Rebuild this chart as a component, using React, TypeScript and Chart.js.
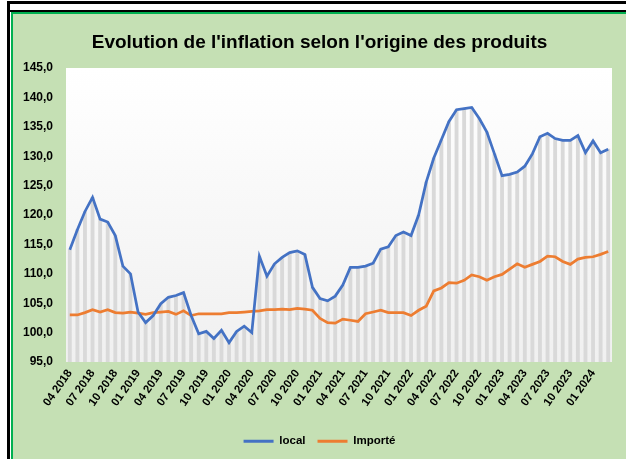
import React, { useEffect, useRef } from 'react';
import { Chart, registerables } from 'chart.js';

Chart.register(...registerables);

const months: string[] = [
  '04 2018', '05 2018', '06 2018', '07 2018', '08 2018', '09 2018', '10 2018', '11 2018', '12 2018',
  '01 2019', '02 2019', '03 2019', '04 2019', '05 2019', '06 2019', '07 2019', '08 2019', '09 2019',
  '10 2019', '11 2019', '12 2019', '01 2020', '02 2020', '03 2020', '04 2020', '05 2020', '06 2020',
  '07 2020', '08 2020', '09 2020', '10 2020', '11 2020', '12 2020', '01 2021', '02 2021', '03 2021',
  '04 2021', '05 2021', '06 2021', '07 2021', '08 2021', '09 2021', '10 2021', '11 2021', '12 2021',
  '01 2022', '02 2022', '03 2022', '04 2022', '05 2022', '06 2022', '07 2022', '08 2022', '09 2022',
  '10 2022', '11 2022', '12 2022', '01 2023', '02 2023', '03 2023', '04 2023', '05 2023', '06 2023',
  '07 2023', '08 2023', '09 2023', '10 2023', '11 2023', '12 2023', '01 2024', '02 2024', '03 2024',
];

const local: number[] = [
  114.1, 117.5, 120.6, 123.0, 119.3, 118.8, 116.5, 111.3, 110.0,
  103.5, 101.7, 102.9, 104.9, 106.0, 106.3, 106.8, 102.9, 99.8,
  100.2, 99.0, 100.4, 98.3, 100.2, 101.1, 100.0, 113.0, 109.6,
  111.7, 112.8, 113.6, 113.9, 113.3, 107.7, 105.8, 105.4, 106.2,
  108.1, 111.1, 111.1, 111.3, 111.8, 114.2, 114.6, 116.5, 117.1,
  116.5, 120.0, 125.6, 129.7, 132.8, 135.9, 137.9, 138.1, 138.3,
  136.4, 134.1, 130.4, 126.7, 126.9, 127.3, 128.3, 130.4, 133.3,
  133.9, 133.0, 132.7, 132.7, 133.5, 130.6, 132.6, 130.6, 131.2,
];

const importe: number[] = [
  103.0, 103.0, 103.4, 103.9, 103.5, 103.9, 103.4, 103.3, 103.5,
  103.3, 103.1, 103.4, 103.5, 103.6, 103.1, 103.7, 102.9, 103.2,
  103.2, 103.2, 103.2, 103.4, 103.4, 103.5, 103.6, 103.7, 103.9,
  103.9, 104.0, 103.9, 104.1, 104.0, 103.8, 102.4, 101.7, 101.6,
  102.3, 102.1, 101.9, 103.2, 103.5, 103.8, 103.4, 103.4, 103.4,
  102.9, 103.8, 104.5, 107.1, 107.6, 108.5, 108.4, 108.9, 109.8,
  109.5, 108.9, 109.5, 109.9, 110.8, 111.7, 111.1, 111.6, 112.1,
  113.0, 112.9, 112.1, 111.6, 112.5, 112.8, 112.9, 113.3, 113.8,
];

const yMin = 95;
const yMax = 145;
const yStep = 5;

const titleText = "Evolution de l'inflation selon l'origine des produits";
const seriesNames = ['local', 'Importé'];

const plotBg = {
  id: 'plotBg',
  beforeDatasetsDraw(chart: any) {
    const { ctx, chartArea } = chart;
    if (!chartArea) return;
    const g = ctx.createLinearGradient(0, chartArea.top, 0, chartArea.bottom);
    g.addColorStop(0, '#ffffff');
    g.addColorStop(1, '#f0f0f0');
    ctx.save();
    ctx.fillStyle = g;
    ctx.fillRect(chartArea.left, chartArea.top, chartArea.right - chartArea.left, chartArea.bottom - chartArea.top);
    ctx.restore();
  },
};

export default function App() {
  const ref = useRef<HTMLCanvasElement | null>(null);

  useEffect(() => {
    if (!ref.current) return;
    const chart = new Chart(ref.current, {
      type: 'line',
      data: {
        labels: months,
        datasets: [
          {
            type: 'line',
            label: seriesNames[0],
            data: local,
            borderColor: '#4472C4',
            backgroundColor: '#4472C4',
            borderWidth: 2.75,
            pointRadius: 0,
            tension: 0,
            order: 1,
          },
          {
            type: 'line',
            label: seriesNames[1],
            data: importe,
            borderColor: '#ED7D31',
            backgroundColor: '#ED7D31',
            borderWidth: 2.75,
            pointRadius: 0,
            tension: 0,
            order: 2,
          },
          {
            type: 'bar',
            label: 'bars',
            data: local,
            backgroundColor: '#d9d9d9',
            barThickness: 3.2,
            order: 3,
          } as any,
        ],
      },
      options: {
        responsive: false,
        animation: false,
        layout: { padding: { left: 0, right: 0, top: 0, bottom: 2 } },
        plugins: {
          title: {
            display: true,
            text: titleText,
            color: '#000000',
            font: { family: 'Liberation Sans', size: 19, weight: 'bold' },
            padding: { top: 17, bottom: 14.2 },
          },
          legend: {
            position: 'bottom',
            labels: {
              boxWidth: 30,
              boxHeight: 3,
              padding: 12,
              color: '#000000',
              font: { family: 'Liberation Sans', size: 11.5, weight: 'bold' },
              filter: (item: any) => item.datasetIndex < 2,
              generateLabels: (chart: any) => {
                const items = (Chart as any).defaults.plugins.legend.labels.generateLabels(chart);
                return items.map((it: any) => ({ ...it, lineWidth: 0 }));
              },
            },
          },
          tooltip: { enabled: false },
        },
        scales: {
          x: {
            type: 'category',
            offset: true,
            grid: { display: false, drawTicks: false },
            border: { display: false },
            afterFit: (scale: any) => { scale.height = 61.5; },
            ticks: {
              autoSkip: false,
              minRotation: 55,
              maxRotation: 55,
              padding: 5,
              color: '#000000',
              font: { family: 'Liberation Sans', size: 11.5, weight: 'bold' },
              callback: (_v: any, i: number) => (i % 3 === 0 ? months[i] : ''),
            },
          },
          y: {
            type: 'linear',
            min: yMin,
            max: yMax,
            beginAtZero: false,
            grid: { display: false, drawTicks: false },
            border: { display: false },
            afterFit: (scale: any) => { scale.width = 53; },
            ticks: {
              stepSize: yStep,
              padding: 13,
              color: '#000000',
              font: { family: 'Liberation Sans', size: 12, weight: 'bold' },
              callback: (v: any) => Number(v).toFixed(1).replace('.', ','),
            },
          },
          yRight: {
            type: 'linear',
            position: 'right',
            display: true,
            min: yMin,
            max: yMax,
            grid: { display: false, drawTicks: false },
            border: { display: false },
            ticks: { display: false },
            afterFit: (scale: any) => { scale.width = 14; },
          },
        },
      },
      plugins: [plotBg],
    });
    return () => chart.destroy();
  }, []);

  return (
    <div style={{ position: 'absolute', left: 0, top: 0, width: 626, height: 459, background: '#ffffff', overflow: 'hidden' }}>
      <div style={{ position: 'absolute', left: 7, top: 1, width: 619, height: 3, background: '#000' }} />
      <div style={{ position: 'absolute', left: 7, top: 10, width: 619, height: 2, background: '#000' }} />
      <div style={{ position: 'absolute', left: 7, top: 1, width: 3, height: 458, background: '#000' }} />
      <div
        style={{
          position: 'absolute', left: 11, top: 12, width: 615, height: 447,
          background: '#C5E0B4', borderTop: '2px solid #00B050', borderLeft: '2px solid #00B050',
          boxSizing: 'border-box',
        }}
      />
      <canvas ref={ref} width={613} height={445} style={{ position: 'absolute', left: 13, top: 14, width: 613, height: 445 }} />
    </div>
  );
}
